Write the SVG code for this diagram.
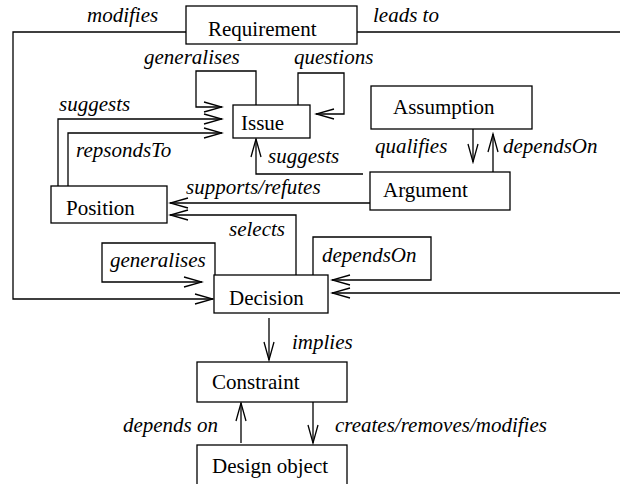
<svg xmlns="http://www.w3.org/2000/svg" width="620" height="484" viewBox="0 0 620 484">
  <style>
    .box { fill: #fff; stroke: #000; stroke-width: 1.3; }
    text { font-family: 'Liberation Serif', 'DejaVu Serif', serif; font-size: 21px; fill: #000; }
    .lbl { font-style: italic; }
    .edge { fill: none; stroke: #000; stroke-width: 1.3; }
    .arr { marker-end: url(#open); }
  </style>
  <defs>
    <marker id="open" markerUnits="userSpaceOnUse" markerWidth="22" markerHeight="14" viewBox="-20 -7 22 14" refX="0" refY="0" orient="auto">
      <path d="M-18,-5 L0,0 L-18,5" fill="none" stroke="#000" stroke-width="1.3"/>
    </marker>
  </defs>
  <rect width="620" height="484" fill="#fff"/>

  <g id="connectors" font-family="Liberation Serif, serif">
    <path class="edge arr" d="M186,32 H13 V299 H213"/>
    <path class="edge" d="M357,32 H620"/>
    <path class="edge arr" d="M256,105 V71 H196 V107 H222"/>
    <path class="edge arr" d="M298,105 V73 H344 V114 H316"/>
    <path class="edge arr" d="M58,186 V119 H222"/>
    <path class="edge arr" d="M68,186 V133 H222"/>
    <path class="edge arr" d="M363,174 H256 V139"/>
    <path class="edge arr" d="M370,203 H170"/>
    <path class="edge arr" d="M296,275 V215 H170"/>
    <path class="edge arr" d="M473,129 V162"/>
    <path class="edge arr" d="M493,172 V134"/>
    <path class="edge arr" d="M620,293 H332"/>
    <path class="edge arr" d="M215,275 V243 H102 V282 H202"/>
    <path class="edge arr" d="M313,275 V237 H431 V280 H332"/>
    <path class="edge arr" d="M269,318 V360"/>
    <path class="edge arr" d="M241,443 V403"/>
    <path class="edge arr" d="M313,402 V443"/>

    <text class="lbl" x="87" y="22">modifies</text>
    <text class="lbl" x="373" y="22">leads to</text>
    <text class="lbl" x="144" y="64">generalises</text>
    <text class="lbl" x="294" y="64">questions</text>
    <text class="lbl" x="59" y="111">suggests</text>
    <text class="lbl" x="76" y="157">repsondsTo</text>
    <text class="lbl" x="268" y="163">suggests</text>
    <text class="lbl" x="375" y="153">qualifies</text>
    <text class="lbl" x="503" y="153">dependsOn</text>
    <text class="lbl" x="186" y="194">supports/refutes</text>
    <text class="lbl" x="229" y="236">selects</text>
    <text class="lbl" x="110" y="267">generalises</text>
    <text class="lbl" x="322" y="262">dependsOn</text>
    <text class="lbl" x="292" y="349">implies</text>
    <text class="lbl" x="218" y="432" text-anchor="end">depends on</text>
    <text class="lbl" x="335" y="432">creates/removes/modifies</text>
  </g>

  <g id="requirement">
    <rect class="box" x="186" y="6" width="171" height="38"/>
    <text x="208" y="36">Requirement</text>
  </g>
  <g id="issue">
    <rect class="box" x="233" y="105" width="77" height="33"/>
    <text x="241" y="130">Issue</text>
  </g>
  <g id="assumption">
    <rect class="box" x="371" y="86" width="161" height="43"/>
    <text x="393" y="114">Assumption</text>
  </g>
  <g id="argument">
    <rect class="box" x="370" y="172" width="140" height="38"/>
    <text x="383" y="197">Argument</text>
  </g>
  <g id="position">
    <rect class="box" x="51" y="186" width="116" height="37"/>
    <text x="66" y="215">Position</text>
  </g>
  <g id="decision">
    <rect class="box" x="214" y="275" width="114" height="38"/>
    <text x="229" y="305">Decision</text>
  </g>
  <g id="constraint">
    <rect class="box" x="197" y="362" width="150" height="40"/>
    <text x="212" y="389">Constraint</text>
  </g>
  <g id="design-object">
    <rect class="box" x="197" y="445" width="150" height="45"/>
    <text x="212" y="473">Design object</text>
  </g>
</svg>
